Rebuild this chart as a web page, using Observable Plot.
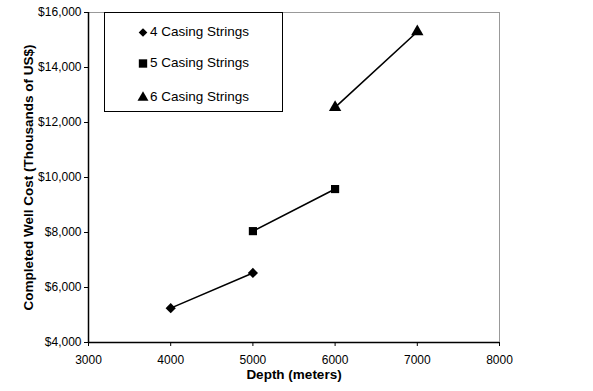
<!DOCTYPE html>
<html>
<head>
<meta charset="utf-8">
<script src="https://cdn.jsdelivr.net/npm/d3@7"></script>
<script src="https://cdn.jsdelivr.net/npm/@observablehq/plot@0.6"></script>
<style>
  html, body { margin: 0; padding: 0; background: #fff; }
  #wrap { position: relative; width: 593px; height: 391px; font-family: "Liberation Sans", Arial, sans-serif; }
  #legend { position: absolute; left: 104px; top: 12px; width: 179px; height: 100px; border: 1px solid #000; background: #fff; box-sizing: border-box; font-size: 13.5px; color: #000; }
  #legend .row { position: absolute; left: 32px; height: 16px; line-height: 16px; white-space: nowrap; }
  #legend .sym { display: inline-block; width: 12px; height: 16px; vertical-align: top; margin-right: 1px; }
</style>
</head>
<body>
<div id="wrap"></div>
<script>
const series = ["4 Casing Strings", "5 Casing Strings", "6 Casing Strings"];
const symbols = ["diamond2", "square", "triangle"];
const depths = [[4000, 5000], [5000, 6000], [6000, 7000]];
const costs = [[5250, 6530], [8050, 9580], [12550, 15300]];
const xTicks = [3000, 4000, 5000, 6000, 7000, 8000];
const yTicks = [4000, 6000, 8000, 10000, 12000, 14000, 16000];

const data = [];
series.forEach((s, i) => depths[i].forEach((d, j) => data.push({series: s, symbol: symbols[i], depth: d, cost: costs[i][j]})));

const chart = Plot.plot({
  width: 593,
  height: 391,
  marginLeft: 88,
  marginRight: 94,
  marginTop: 12,
  marginBottom: 49,
  style: {fontFamily: "Liberation Sans, Arial, sans-serif", fontSize: "12px", color: "#000", background: "#fff", overflow: "visible"},
  x: {domain: [3000, 8000], ticks: xTicks, tickFormat: d => String(d), label: null},
  y: {domain: [4000, 16000], ticks: yTicks, tickFormat: d => "$" + d3.format(",")(d), label: null},
  symbol: {domain: symbols, range: symbols},
  marks: [
    Plot.ruleY([16000], {stroke: "#999", strokeWidth: 1}),
    Plot.ruleX([8000], {stroke: "#999", strokeWidth: 1}),
    Plot.axisX({ticks: xTicks, tickSize: 4, tickPadding: 9, stroke: "#000", fill: "#000", fontSize: 12, tickFormat: d => String(d)}),
    Plot.axisY({ticks: yTicks, tickSize: 4, tickPadding: 3, stroke: "#000", fill: "#000", fontSize: 12, tickFormat: d => "$" + d3.format(",")(d)}),
    Plot.ruleX([3000], {stroke: "#000", strokeWidth: 1.5}),
    Plot.ruleY([4000], {stroke: "#000", strokeWidth: 1.5}),
    Plot.line(data, {x: "depth", y: "cost", z: "series", stroke: "#000", strokeWidth: 1.6}),
    Plot.dot(data, {x: "depth", y: "cost", symbol: "symbol", fill: "#000", stroke: "none", r: 4.6}),
    Plot.text(["Depth (meters)"], {frameAnchor: "bottom", lineAnchor: "middle", dy: 32, fontWeight: "bold", fontSize: 13.5, fill: "#000"}),
    Plot.text(["Completed Well Cost (Thousands of US$)"], {frameAnchor: "left", textAnchor: "middle", dx: -60, rotate: -90, fontWeight: "bold", fontSize: 13.5, fill: "#000"})
  ]
});

const wrap = document.getElementById("wrap");
wrap.appendChild(chart);

const legend = document.createElement("div");
legend.id = "legend";
const rowTops = [11, 42, 76];
const legendSizes = [48, 70, 52];
series.forEach((s, i) => {
  const row = document.createElement("div");
  row.className = "row";
  row.style.top = rowTops[i] + "px";
  const sym = d3.create("svg").attr("class", "sym").attr("width", 12).attr("height", 16);
  const symType = [d3.symbolDiamond2, d3.symbolSquare, d3.symbolTriangle][i];
  sym.append("path")
    .attr("transform", "translate(6,8.5)")
    .attr("d", d3.symbol(symType, legendSizes[i])())
    .attr("fill", "#000");
  row.appendChild(sym.node());
  row.appendChild(document.createTextNode(s));
  legend.appendChild(row);
});
wrap.appendChild(legend);
</script>
</body>
</html>
